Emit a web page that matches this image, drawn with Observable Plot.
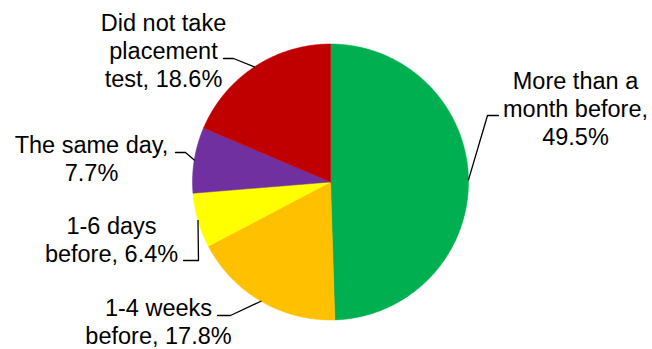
<!DOCTYPE html>
<html>
<head>
<meta charset="utf-8">
<script src="https://cdn.jsdelivr.net/npm/d3@7"></script>
<script src="https://cdn.jsdelivr.net/npm/@observablehq/plot@0.6"></script>
<style>
  html, body { margin: 0; padding: 0; background: #fff; }
  #chart svg { display: block; }
</style>
</head>
<body>
<div id="chart"></div>
<script>
// ---- data ----
const categories = [
  "More than a month before",
  "1-4 weeks before",
  "1-6 days before",
  "The same day",
  "Did not take placement test"
];
const values = [49.5, 17.8, 6.4, 7.7, 18.6];
const labelTexts = [
  "More than a\nmonth before,\n49.5%",
  "1-4 weeks\nbefore, 17.8%",
  "1-6 days\nbefore, 6.4%",
  "The same day,\n7.7%",
  "Did not take\nplacement\ntest, 18.6%"
];
const colors = ["#00B050", "#FFC000", "#FFFF00", "#7030A0", "#C00000"];

// ---- layout (pixel positions of labels & leader elbows) ----
const W = 652, H = 349;
const CX = 330, CY = 181.5, R = 138;
const labelAt = [[575, 107.8], [158, 320.8], [111, 238.8], [91, 157.8], [163, 49.8]];
const elbows = [
  [[487, 115], [498, 115]],
  [[230, 315], [217, 315]],
  [[198, 260], [183, 260]],
  [[185, 152], [175, 152]],
  [[233, 58], [223, 58]]
];
const toU = ([px, py]) => [(px - CX) / R, (CY - py) / R];

// ---- geometry from data ----
const pie = d3.pie().sort(null).value(d => d)(values);
const slices = pie.map((p, i) => {
  const pts = [{x: 0, y: 0}];
  const n = Math.max(8, Math.ceil((p.endAngle - p.startAngle) / 0.01));
  for (let k = 0; k <= n; k++) {
    const a = p.startAngle + (p.endAngle - p.startAngle) * k / n;
    pts.push({x: Math.sin(a), y: Math.cos(a)});
  }
  pts.push({x: 0, y: 0});
  return pts;
});
const leaders = pie.map((p, i) => {
  const a = (p.startAngle + p.endAngle) / 2;
  const pts = [{x: Math.sin(a), y: Math.cos(a)}];
  elbows[i].forEach(e => { const [x, y] = toU(e); pts.push({x, y}); });
  return pts;
});
const labels = labelTexts.map((t, i) => {
  const [x, y] = toU(labelAt[i]);
  return {x, y, text: t};
});

const marks = [];
slices.forEach((pts, i) => {
  marks.push(Plot.line(pts, {x: "x", y: "y", fill: colors[i], stroke: colors[i], strokeWidth: 0.5, curve: "linear"}));
});
leaders.forEach(pts => {
  marks.push(Plot.line(pts, {x: "x", y: "y", stroke: "#000", strokeWidth: 1.3, curve: "linear"}));
});
marks.push(Plot.text(labels, {
  x: "x", y: "y", text: "text",
  fill: "#000", fontSize: 23.5, lineHeight: 1.19,
  textAnchor: "middle", lineAnchor: "middle",
  fontFamily: "Liberation Sans, Arial, sans-serif"
}));

const chart = Plot.plot({
  width: W, height: H,
  margin: 0,
  x: {domain: [-CX / R, (W - CX) / R], range: [0, W], axis: null},
  y: {domain: [(CY - H) / R, CY / R], range: [H, 0], axis: null},
  style: {background: "#fff", fontFamily: "Liberation Sans, Arial, sans-serif"},
  marks
});
document.getElementById("chart").appendChild(chart);
</script>
</body>
</html>
